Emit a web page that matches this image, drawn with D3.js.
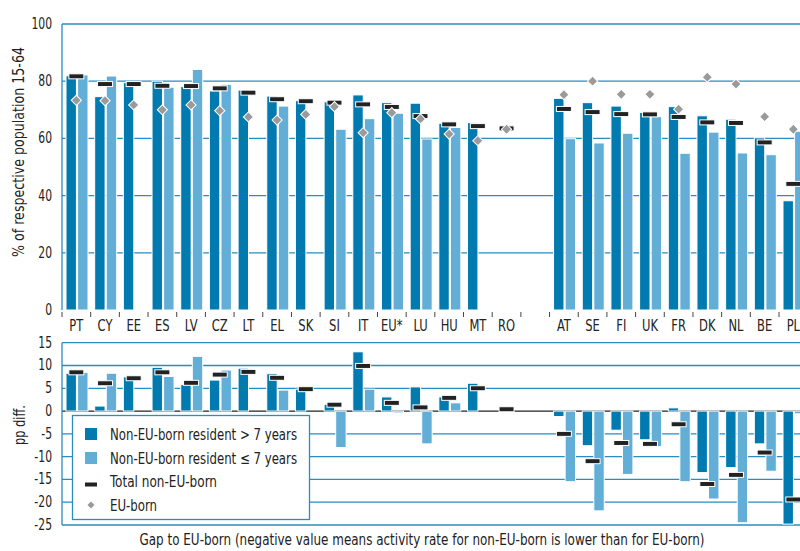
<!DOCTYPE html>
<html><head><meta charset="utf-8">
<script src="https://cdn.jsdelivr.net/npm/d3@7"></script>
<style>
html,body{margin:0;padding:0;background:#fff;}
svg text{font-family:"Liberation Sans Narrow","DejaVu Sans Condensed","Roboto",sans-serif;fill:#222;}
</style></head>
<body>
<svg id="c" width="800" height="551"></svg>
<script>
const categories = ["PT","CY","EE","ES","LV","CZ","LT","EL","SK","SI","IT","EU*","LU","HU","MT","RO","","AT","SE","FI","UK","FR","DK","NL","BE","PL"];
const rateLong  = [81.9,74.6,79.5,80.0,78.1,76.6,76.9,74.8,73.2,72.8,75.2,72.5,72.3,65.3,65.5,null,null,74.0,72.5,71.3,69.1,71.1,67.9,66.7,60.2,38.2];
const rateShort = [82.2,81.8,null,77.9,84.1,78.9,null,71.3,null,63.2,66.9,68.8,59.8,63.8,null,null,null,59.9,58.4,61.8,67.6,54.8,62.2,54.9,54.3,62.5];
const rateTotal = [81.7,79.0,79.0,78.4,78.3,77.5,76.0,73.7,73.0,72.5,71.9,71.0,67.8,64.9,64.3,63.5,null,70.3,69.2,68.5,68.4,67.5,65.6,65.4,58.6,44.1];
const rateEU    = [73.3,73.2,71.7,70.0,71.7,69.7,67.5,66.4,68.4,71.1,62.0,69.0,66.8,61.5,59.2,63.2,null,75.3,80.0,75.4,75.4,70.2,81.4,79.0,67.6,63.2];
const gapLong   = [8.3,1.1,7.5,9.6,5.8,6.8,9.4,8.2,4.8,1.5,13.0,3.1,5.3,3.1,6.1,null,null,-1.2,-7.6,-4.2,-6.3,0.7,-13.5,-12.4,-7.2,-24.8];
const gapShort  = [8.5,8.3,null,7.6,12.0,9.0,null,4.6,null,-8.0,4.8,-0.4,-7.2,1.8,null,null,null,-15.5,-21.9,-13.9,-7.8,-15.5,-19.3,-24.5,-13.2,-0.6];
const gapTotal  = [8.5,6.1,7.2,8.5,6.2,8.0,8.6,7.3,4.8,1.4,9.9,1.8,0.8,2.9,5.0,0.4,null,-5.0,-11.0,-7.0,-7.2,-2.9,-16.0,-14.0,-9.1,-19.4];
const topTicks = [0,20,40,60,80,100];
const gapTicks = [15,10,5,0,-5,-10,-15,-20,-25];
const seriesNames = ["Non-EU-born resident > 7 years","Non-EU-born resident \u2264 7 years","Total non-EU-born","EU-born"];

const DARK="#007aaf", LIGHT="#62aed6", GRID="#2a8cc2", DASH="#222", DIAM="#9a9a9a";
const SX = 0.8;
const svg = d3.select("#c");
const keys = categories.map((c,i)=>i);
const x = d3.scaleBand().domain(keys).range([62, 62+26*28.68]);
const x1 = d3.scaleBand().domain(["long","short"]).range([4,26]).paddingInner(0.1);
const yT = d3.scaleLinear().domain([0,100]).range([310,24]);
const yG = d3.scaleLinear().domain([-25,15]).range([525,342.7]);

function yLabels(g, ticks, y){
  g.selectAll(null).data(ticks).join("text")
    .attr("transform",d=>`translate(52,${y(d)+5}) scale(${SX},1)`)
    .attr("text-anchor","end").attr("font-size",15).text(d=>d);
}

// ---- top panel
const topP = svg.append("g");
topP.selectAll("line.grid").data(topTicks.filter(t=>t>0)).join("line")
  .attr("x1",62).attr("x2",800).attr("y1",d=>yT(d)).attr("y2",d=>yT(d))
  .attr("stroke",GRID).attr("stroke-width",1.3);
topP.append("line").attr("x1",62).attr("x2",62).attr("y1",yT(100)).attr("y2",yT(0)).attr("stroke",GRID).attr("stroke-width",1.3);
yLabels(topP, topTicks, yT);
topP.selectAll("line.ct").data(d3.range(27)).join("line")
  .attr("x1",d=>62+d*28.68).attr("x2",d=>62+d*28.68).attr("y1",312).attr("y2",317)
  .attr("stroke","#444").attr("stroke-width",1);
topP.selectAll("text.cl").data(keys).join("text")
  .attr("transform",d=>`translate(${x(d)+x.bandwidth()/2},331) scale(${SX},1)`)
  .attr("text-anchor","middle").attr("font-size",16)
  .text(d=>categories[d]);

function bars(g, arr, key, color, y, y0){
  g.selectAll(null).data(keys.filter(i=>arr[i]!=null)).join("rect")
    .attr("x",i=>x(i)+x1(key)).attr("width",x1.bandwidth())
    .attr("y",i=>Math.min(y(arr[i]),y(y0))).attr("height",i=>Math.abs(y(arr[i])-y(y0)))
    .attr("fill",color).attr("stroke","#fff").attr("stroke-width",1);
}
function dashes(g, arr, y){
  g.selectAll(null).data(keys.filter(i=>arr[i]!=null)).join("rect")
    .attr("x",i=>x(i)+x.bandwidth()/2-7.5).attr("y",i=>y(arr[i])-2.5).attr("width",15).attr("height",5)
    .attr("fill",DASH).attr("stroke","#fff").attr("stroke-width",1);
}
function diamonds(g, arr, y){
  g.selectAll(null).data(keys.filter(i=>arr[i]!=null)).join("path")
    .attr("transform",i=>`translate(${x(i)+x.bandwidth()/2},${y(arr[i])}) rotate(45)`)
    .attr("d","M-3.6,-3.6H3.6V3.6H-3.6Z").attr("fill",DIAM).attr("stroke","#fff").attr("stroke-width",1);
}
bars(topP, rateLong, "long", DARK, yT, 0);
bars(topP, rateShort, "short", LIGHT, yT, 0);
dashes(topP, rateTotal, yT);
diamonds(topP, rateEU, yT);

topP.append("text").attr("transform","translate(24,152) rotate(-90)").attr("text-anchor","middle")
  .attr("font-size",16).attr("textLength",210).attr("lengthAdjust","spacingAndGlyphs")
  .text("% of respective population 15-64");

// ---- gap panel
const gp = svg.append("g");
gp.selectAll("line.grid").data(gapTicks.filter(t=>t!==0)).join("line")
  .attr("x1",62).attr("x2",800).attr("y1",d=>yG(d)).attr("y2",d=>yG(d))
  .attr("stroke",GRID).attr("stroke-width",1.3);
gp.append("line").attr("x1",62).attr("x2",800).attr("y1",yG(0)).attr("y2",yG(0)).attr("stroke","#222").attr("stroke-width",1.3);
gp.append("line").attr("x1",62).attr("x2",62).attr("y1",yG(15)).attr("y2",yG(-25)).attr("stroke",GRID).attr("stroke-width",1.3);
yLabels(gp, gapTicks, yG);
bars(gp, gapLong, "long", DARK, yG, 0);
bars(gp, gapShort, "short", LIGHT, yG, 0);
dashes(gp, gapTotal, yG);
gp.append("text").attr("transform","translate(25,425) rotate(-90)").attr("text-anchor","middle")
  .attr("font-size",16).attr("textLength",40).attr("lengthAdjust","spacingAndGlyphs").text("pp diff.");

// legend
const lg = svg.append("g");
lg.append("rect").attr("x",72.5).attr("y",415.5).attr("width",237).attr("height",104)
  .attr("fill","#fff").attr("stroke",GRID).attr("stroke-width",1.3);
const rowsY = [434,458,481.5,505];
const legW = [187,187,107,47];
lg.append("rect").attr("x",85).attr("y",rowsY[0]-6).attr("width",12).attr("height",12).attr("fill",DARK);
lg.append("rect").attr("x",85).attr("y",rowsY[1]-6).attr("width",12).attr("height",12).attr("fill",LIGHT);
lg.append("rect").attr("x",85).attr("y",rowsY[2]+1).attr("width",12).attr("height",4).attr("fill",DASH);
lg.append("path").attr("transform",`translate(91,${rowsY[3]}) rotate(45)`).attr("d","M-2.5,-2.5H2.5V2.5H-2.5Z").attr("fill",DIAM);
lg.selectAll("text").data(seriesNames).join("text")
  .attr("x",110).attr("y",(d,i)=>rowsY[i]+5.5).attr("font-size",16)
  .attr("textLength",(d,i)=>legW[i]).attr("lengthAdjust","spacingAndGlyphs").text(d=>d);

svg.append("text").attr("x",422).attr("y",545).attr("text-anchor","middle").attr("font-size",15)
  .attr("textLength",565).attr("lengthAdjust","spacingAndGlyphs")
  .text("Gap to EU-born (negative value means activity rate for non-EU-born is lower than for EU-born)");
</script>
</body></html>
